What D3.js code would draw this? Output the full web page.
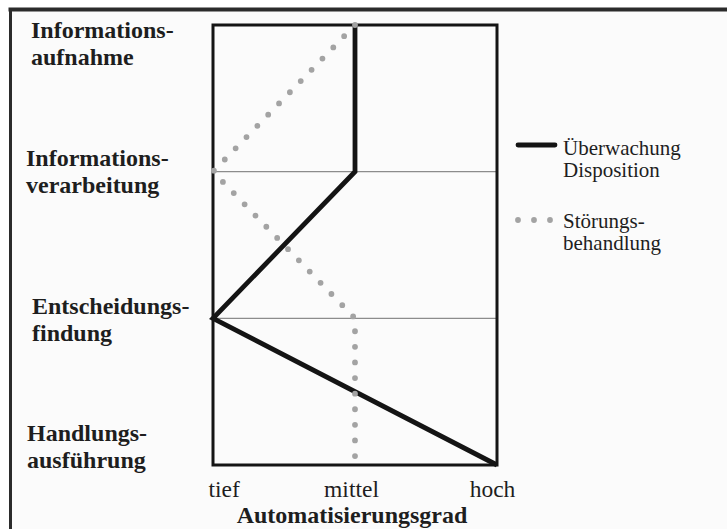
<!DOCTYPE html>
<html>
<head>
<meta charset="utf-8">
<script src="https://cdn.jsdelivr.net/npm/d3@7"></script>
<style>
  html, body { margin: 0; padding: 0; background: #ffffff; }
  svg { display: block; }
  text { font-family: "Liberation Serif", "Times New Roman", serif; fill: #1e1e1e; }
</style>
</head>
<body>
<svg id="chart" width="727" height="529"></svg>
<script>
// ---- data ----
const stages = ["Informationsaufnahme", "Informationsverarbeitung", "Entscheidungsfindung", "Handlungsausführung"];
const stageLabels = [["Informations-", "aufnahme"], ["Informations-", "verarbeitung"], ["Entscheidungs-", "findung"], ["Handlungs-", "ausführung"]];
const levels = ["tief", "mittel", "hoch"];
const axisTitle = "Automatisierungsgrad";
const ueberwachung = ["mittel", "mittel", "tief", "hoch"];      // Überwachung / Disposition
const stoerung = ["mittel", "tief", "mittel", "mittel"];         // Störungsbehandlung
const legendLabels = [["Überwachung", "Disposition"], ["Störungs-", "behandlung"]];

(function () {
// ---- layout ----
const svg = d3.select("#chart");
const pLeft = 213, pRight = 497, pTop = 25, pBottom = 465;

const x = d3.scalePoint().domain(levels).range([pLeft, pRight]);
const y = d3.scalePoint().domain(stages).range([pTop, pBottom]);

// outer frame (cropped: only top and left visible)
svg.append("rect").attr("x", 10).attr("y", 9).attr("width", 717).attr("height", 520).attr("fill", "#fbfbfb");
svg.append("line").attr("x1", 8.5).attr("x2", 727).attr("y1", 9.5).attr("y2", 9.5)
  .attr("stroke", "#2b2b2b").attr("stroke-width", 4);
svg.append("line").attr("x1", 10.5).attr("x2", 10.5).attr("y1", 8).attr("y2", 529)
  .attr("stroke", "#2b2b2b").attr("stroke-width", 3);

// inner gridlines at the middle stages
svg.append("g").selectAll("line").data(stages.slice(1, 3)).join("line")
  .attr("x1", pLeft).attr("x2", pRight)
  .attr("y1", d => y(d)).attr("y2", d => y(d))
  .attr("stroke", "#8c8c8c").attr("stroke-width", 1.2);

// plot box
svg.append("rect").attr("x", pLeft).attr("y", pTop)
  .attr("width", pRight - pLeft).attr("height", pBottom - pTop)
  .attr("fill", "none").attr("stroke", "#151515").attr("stroke-width", 3);

const line = d3.line().x(d => x(d[0])).y(d => y(d[1]));

// black series
svg.append("path")
  .attr("d", line(ueberwachung.map((v, i) => [v, stages[i]])))
  .attr("fill", "none").attr("stroke", "#141414").attr("stroke-width", 4.8)
  .attr("stroke-linejoin", "miter");

// gray dotted series
svg.append("path")
  .attr("d", line(stoerung.map((v, i) => [v, stages[i]])))
  .attr("fill", "none").attr("stroke", "#a3a3a3").attr("stroke-width", 5.8)
  .attr("stroke-linecap", "round").attr("stroke-dasharray", "0,15.6");

// stage labels (left)
const labelPos = [{x: 31, y: 38}, {x: 26, y: 166}, {x: 32, y: 314}, {x: 27, y: 441}];
stageLabels.forEach((lines, i) => {
  const t = svg.append("text")
    .attr("x", labelPos[i].x).attr("y", labelPos[i].y)
    .attr("font-size", 24).attr("font-weight", "bold");
  lines.forEach((l, j) => t.append("tspan").attr("x", labelPos[i].x).attr("dy", j === 0 ? 0 : 26.5).text(l));
});

// x axis tick labels
const xAxis = d3.axisBottom(x).tickSize(0).tickPadding(0);
const gx = svg.append("g").attr("transform", `translate(0, ${pBottom})`).call(xAxis);
gx.select(".domain").remove();
gx.selectAll(".tick text")
  .attr("font-size", 23.5).attr("font-family", "'Liberation Serif', 'Times New Roman', serif")
  .attr("fill", "#1e1e1e")
  .attr("dy", null).attr("y", 32)
  .attr("text-anchor", (d, i) => i === 0 ? "start" : "middle")
  .attr("dx", (d, i) => i === 0 ? -5 : (i === levels.length - 1 ? -5 : -4));

// axis title
svg.append("text").attr("x", (pLeft + pRight) / 2 - 3).attr("y", 523)
  .attr("text-anchor", "middle").attr("font-size", 24).attr("font-weight", "bold")
  .text(axisTitle);

// legend
const lg = svg.append("g");
lg.append("line").attr("x1", 518).attr("x2", 555).attr("y1", 145).attr("y2", 145)
  .attr("stroke", "#141414").attr("stroke-width", 4.8).attr("stroke-linecap", "round");
lg.append("line").attr("x1", 518).attr("x2", 552).attr("y1", 220).attr("y2", 220)
  .attr("stroke", "#a3a3a3").attr("stroke-width", 5.8)
  .attr("stroke-linecap", "round").attr("stroke-dasharray", "0,16");
const legendY = [155, 228];
legendLabels.forEach((lines, i) => {
  const t = lg.append("text").attr("x", 563).attr("y", legendY[i]).attr("font-size", 21);
  lines.forEach((l, j) => t.append("tspan").attr("x", 563).attr("dy", j === 0 ? 0 : 22).text(l));
});
})();
</script>
</body>
</html>
